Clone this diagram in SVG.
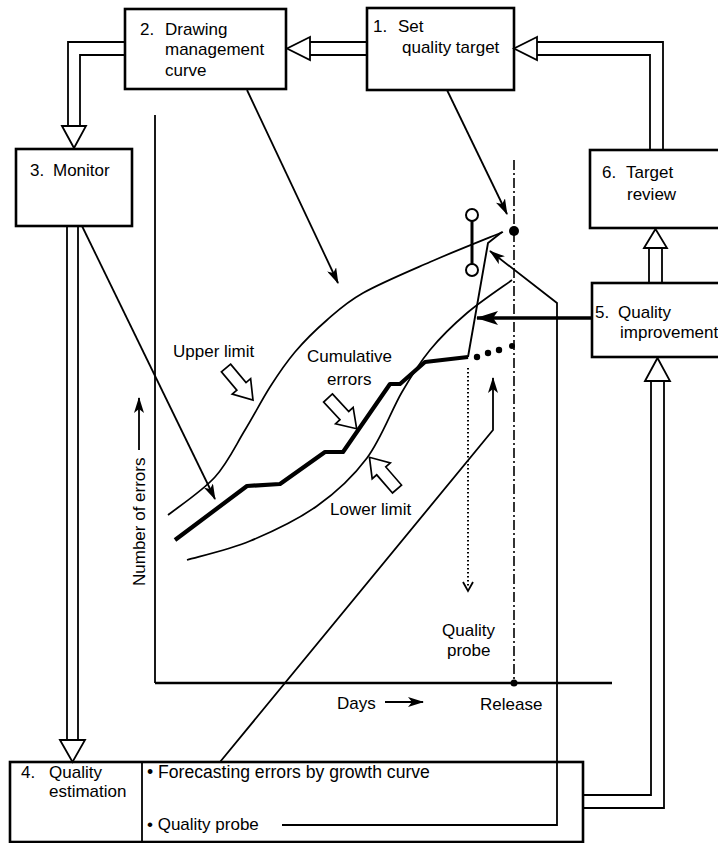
<svg xmlns="http://www.w3.org/2000/svg" width="718" height="843" viewBox="0 0 718 843">
<style>
text{font-family:"Liberation Sans",Arial,sans-serif;font-size:17px;fill:#000}
.box{fill:#fff;stroke:#000;stroke-width:2.6}
.dl{fill:none;stroke:#000;stroke-width:1.8}
.hd{fill:#fff;stroke:#000;stroke-width:1.8;stroke-linejoin:miter}
.ln{fill:none;stroke:#000;stroke-width:1.8}
.cv{fill:none;stroke:#000;stroke-width:1.7}
.blk{fill:#fff;stroke:#000;stroke-width:1.7;stroke-linejoin:miter}
</style>
<defs>
<marker id="ah" viewBox="0 0 16 10" refX="15" refY="5" markerWidth="16" markerHeight="10" markerUnits="userSpaceOnUse" orient="auto">
<path d="M0,0 L16,5 L0,10 L4,5 z" fill="#000"/>
</marker>
<marker id="ahb" viewBox="0 0 22 14" refX="21" refY="7" markerWidth="22" markerHeight="14" markerUnits="userSpaceOnUse" orient="auto">
<path d="M0,0 L22,7 L0,14 L5,7 z" fill="#000"/>
</marker>
<polygon id="blockarrow" points="0,-6 24,-6 24,-12 42,0 24,12 24,6 0,6"/>
</defs>

<!-- chart -->
<g id="chart">
<line x1="155" y1="115" x2="155" y2="683" stroke="#000" stroke-width="1.8"/>
<line x1="155" y1="683" x2="612" y2="683" stroke="#000" stroke-width="2.6"/>
<line x1="514" y1="160" x2="514" y2="683" stroke="#000" stroke-width="1.6" stroke-dasharray="10,3,2,3"/>
<circle cx="514" cy="683" r="3.5" fill="#000"/>
<text x="0" y="0" transform="translate(145,586) rotate(-90)">Number of errors</text>
<line x1="139" y1="450" x2="139" y2="398" class="ln" stroke-width="1.5" marker-end="url(#ah)"/>
<text x="337" y="709">Days</text>
<line x1="385" y1="702" x2="423" y2="702" class="ln" stroke-width="2" marker-end="url(#ah)"/>
<text x="480" y="710">Release</text>
<path class="cv" d="M168,515 C175.8,508.7 202.2,491.2 215,477 C227.8,462.8 235.8,445 245,430 C254.2,415 261.7,400 270,387 C278.3,374 285.5,363.2 295,352 C304.5,340.8 315.7,329.8 327,320 C338.3,310.2 345.8,302.7 363,293 C380.2,283.3 406.7,272.2 430,262 C453.3,251.8 490.8,237 503,232"/>
<path class="cv" d="M187,560 C197.5,556.8 228.3,550 250,541 C271.7,532 297.5,519.8 317,506 C336.5,492.2 352.8,477 367,458 C381.2,439 391.5,410 402,392 C412.5,374 419.2,363.2 430,350 C440.8,336.8 453.3,324.7 467,313 C480.7,301.3 504.5,285.5 512,280"/>
<polyline fill="none" stroke="#000" stroke-width="4.2" stroke-linejoin="round" points="175,540 247,486 280,484 325,452 343,452 390,384 400,384 425,362 468,357"/>
<polyline fill="none" stroke="#000" stroke-width="1.9" points="468,357 488,243 502,232"/>
<circle cx="477" cy="357" r="3.2" fill="#000"/>
<circle cx="488" cy="353" r="3.2" fill="#000"/>
<circle cx="499" cy="350" r="3.2" fill="#000"/>
<circle cx="512" cy="346" r="3" fill="#000"/>
<line x1="468" y1="368" x2="468" y2="588" stroke="#000" stroke-width="2" stroke-dasharray="1.5,2.5"/>
<polyline fill="none" stroke="#000" stroke-width="1.8" points="463,582 468,591 473,582"/>
<line x1="472" y1="221" x2="472" y2="264" stroke="#000" stroke-width="3"/>
<circle cx="472" cy="215" r="6" fill="#fff" stroke="#000" stroke-width="2"/>
<circle cx="472" cy="270" r="6" fill="#fff" stroke="#000" stroke-width="2"/>
<circle cx="514" cy="231" r="5" fill="#000"/>
<text x="173" y="357">Upper limit</text>
<text x="307" y="362">Cumulative</text>
<text x="327" y="385">errors</text>
<text x="330" y="515">Lower limit</text>
<text x="442" y="636">Quality</text>
<text x="447" y="656">probe</text>
<use href="#blockarrow" class="blk" transform="translate(226,368) rotate(50)"/>
<use href="#blockarrow" class="blk" transform="translate(328,398) rotate(47)"/>
<use href="#blockarrow" class="blk" transform="translate(397,489) rotate(-131)"/>
</g>

<!-- nodes -->
<g id="node1">
<rect class="box" x="367" y="8" width="147" height="82"/>
<text x="373" y="32">1.</text>
<text x="398" y="32">Set</text>
<text x="402" y="53">quality target</text>
</g>
<g id="node2">
<rect class="box" x="125" y="9" width="161" height="80"/>
<text x="140" y="35">2.</text>
<text x="165" y="35">Drawing</text>
<text x="165" y="55">management</text>
<text x="165" y="76">curve</text>
</g>
<g id="node3">
<rect class="box" x="16" y="149" width="116" height="77"/>
<text x="30" y="176">3.</text>
<text x="53" y="176">Monitor</text>
</g>
<g id="node4">
<rect class="box" x="10" y="762" width="573" height="80"/>
<line x1="142" y1="762" x2="142" y2="842" stroke="#000" stroke-width="1.8"/>
<text x="21" y="778">4.</text>
<text x="49" y="778">Quality</text>
<text x="49" y="797">estimation</text>
<text x="147" y="778" style="font-size:17.6px">• Forecasting errors by growth curve</text>
<text x="147" y="830">• Quality probe</text>
</g>
<g id="node5">
<rect class="box" x="592" y="283" width="135" height="74"/>
<text x="595" y="318">5.</text>
<text x="618" y="318">Quality</text>
<text x="620" y="338">improvement</text>
</g>
<g id="node6">
<rect class="box" x="590" y="150" width="137" height="78"/>
<text x="602" y="178">6.</text>
<text x="626" y="178">Target</text>
<text x="627" y="200">review</text>
</g>

<!-- connectors -->
<g id="connectors">
<!-- 1 -> 2 -->
<path class="dl" d="M367,42 H310 M367,55 H310"/>
<polygon class="hd" points="310,37 287,48.5 310,60"/>
<!-- 6 -> 1 -->
<path class="dl" d="M663,150 V42 H537 M650,150 V55 H537"/>
<polygon class="hd" points="537,37 514,48.5 537,60"/>
<!-- 2 -> 3 -->
<path class="dl" d="M125,42 H68 V126 M125,55 H80 V126"/>
<polygon class="hd" points="62,126 74,148 86,126"/>
<!-- 3 -> 4 -->
<path class="dl" d="M67,226 V740 M78,226 V740"/>
<polygon class="hd" points="60,740 72.5,762 85,740"/>
<!-- 5 -> 6 -->
<path class="dl" d="M649,283 V248 M662,283 V248"/>
<polygon class="hd" points="644,248 655.5,229 667,248"/>
<!-- 4 -> 5 -->
<path class="dl" d="M583,795 H651 V381 M583,808 H664 V381"/>
<polygon class="hd" points="645,381 657.5,358 670,381"/>
<!-- thin arrows -->
<line class="ln" x1="447" y1="90" x2="507" y2="214" marker-end="url(#ah)"/>
<line class="ln" x1="247" y1="90" x2="338" y2="283" marker-end="url(#ah)"/>
<line class="ln" x1="82" y1="226" x2="215" y2="499" marker-end="url(#ah)"/>
<line x1="592" y1="318" x2="477" y2="318" stroke="#000" stroke-width="3.4" marker-end="url(#ahb)"/>
<polyline class="ln" stroke-width="2" points="282,825 557,825 557,303 490,251" marker-end="url(#ah)"/>
<polyline class="ln" points="220,762 493,430 493,378" marker-end="url(#ah)"/>
</g>
</svg>
